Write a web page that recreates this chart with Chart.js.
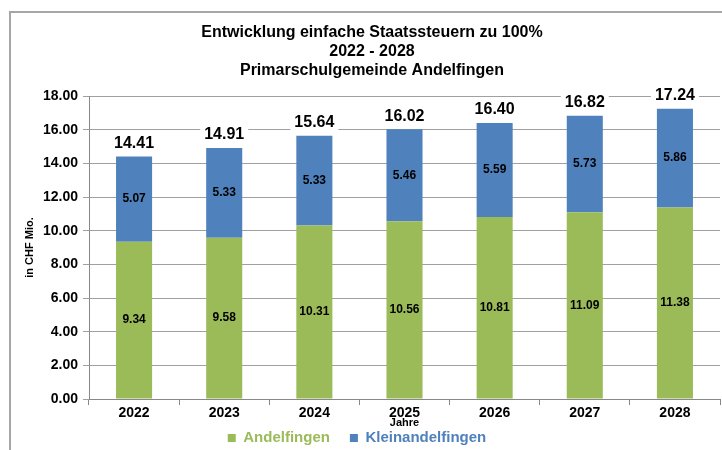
<!DOCTYPE html>
<html>
<head>
<meta charset="utf-8">
<script src="https://cdn.jsdelivr.net/npm/chart.js@4"></script>
<style>
  html, body { margin: 0; padding: 0; background: #fff; }
  #wrap { width: 722px; height: 450px; }
</style>
</head>
<body>
<div id="wrap"><canvas id="myChart" width="722" height="450"></canvas></div>
<script>
const years = ['2022', '2023', '2024', '2025', '2026', '2027', '2028'];
const andelfingen = [9.34, 9.58, 10.31, 10.56, 10.81, 11.09, 11.38];
const kleinandelfingen = [5.07, 5.33, 5.33, 5.46, 5.59, 5.73, 5.86];
const titleLines = ['Entwicklung einfache Staatssteuern zu 100%', '2022 - 2028', 'Primarschulgemeinde Andelfingen'];
const yTicks = [0, 2, 4, 6, 8, 10, 12, 14, 16, 18];

const green = '#9BBB59';
const blue = '#4F81BD';
const font = '"Liberation Sans", Arial, sans-serif';

// frame + white background
const framePlugin = {
  id: 'frame',
  beforeDraw(chart) {
    const c = chart.ctx;
    c.save();
    c.fillStyle = '#fff';
    c.fillRect(0, 0, chart.width, chart.height);
    c.strokeStyle = '#a6a6a6';
    c.lineWidth = 2;
    c.beginPath();
    c.moveTo(10, 460);
    c.lineTo(10, 12);
    c.lineTo(730, 12);
    c.stroke();
    c.restore();
  }
};

// legend box sits a bit higher and further left than the layout puts it
const legendShift = {
  id: 'legendShift',
  afterLayout(chart) {
    const lg = chart.legend;
    const h = lg.bottom - lg.top;
    lg.top = 410.5;
    lg.bottom = lg.top + h;
    lg.left -= 13;
    lg.right -= 13;
  }
};

const titlePlugin = {
  id: 'threeLineTitle',
  afterDraw(chart) {
    const c = chart.ctx;
    c.save();
    c.font = 'bold 16px ' + font;
    c.fillStyle = '#000';
    c.textAlign = 'center';
    c.textBaseline = 'middle';
    titleLines.forEach((t, i) => c.fillText(t, 372, 33 + i * 19));
    c.restore();
  }
};

const labelPlugin = {
  id: 'barLabels',
  afterDatasetsDraw(chart) {
    const c = chart.ctx;
    c.save();
    c.textAlign = 'center';
    c.textBaseline = 'middle';
    chart.data.datasets.forEach((ds, di) => {
      chart.getDatasetMeta(di).data.forEach((el, i) => {
        c.font = 'bold 12px ' + font;
        c.fillStyle = '#000';
        c.fillText(ds.data[i].toFixed(2), el.x, (el.y + el.base) / 2);
      });
    });
    const top = chart.getDatasetMeta(chart.data.datasets.length - 1).data;
    top.forEach((el, i) => {
      const total = andelfingen[i] + kleinandelfingen[i];
      const txt = total.toFixed(2);
      c.font = 'bold 16px ' + font;
      const w = c.measureText(txt).width;
      const y = el.y - 13;
      c.fillStyle = '#fff';
      c.fillRect(el.x - w / 2 - 4, y - 10, w + 8, 21);
      c.fillStyle = '#000';
      c.fillText(txt, el.x, y);
    });
    c.restore();
  }
};

new Chart(document.getElementById('myChart'), {
  type: 'bar',
  data: {
    labels: years,
    datasets: [
      {
        label: 'Andelfingen',
        data: andelfingen,
        backgroundColor: green,
        barPercentage: 0.4,
        categoryPercentage: 1
      },
      {
        label: 'Kleinandelfingen',
        data: kleinandelfingen,
        backgroundColor: blue,
        barPercentage: 0.4,
        categoryPercentage: 1
      }
    ]
  },
  options: {
    responsive: false,
    animation: false,
    layout: { padding: { top: 96, left: 20, right: 2, bottom: -25 } },
    scales: {
      x: {
        stacked: true,
        offset: true,
        grid: { offset: true, drawOnChartArea: false, tickLength: 6, color: '#888' },
        border: { color: '#888' },
        ticks: { color: '#000', font: { family: font, weight: 'bold', size: 14 }, padding: 0 },
        title: {
          display: true,
          text: 'Jahre',
          color: '#000',
          font: { family: font, weight: 'bold', size: 11 },
          padding: { top: 0, bottom: 0 }
        },
        afterFit(scale) { scale.height = 31; }
      },
      y: {
        stacked: true,
        min: 0,
        max: 18,
        afterBuildTicks(scale) { scale.ticks = yTicks.map(v => ({ value: v })); },
        grid: { color: '#a0a0a0', tickLength: 6 },
        border: { color: '#888' },
        ticks: {
          color: '#000',
          font: { family: font, weight: 'bold', size: 14 },
          padding: 5,
          callback: v => v.toFixed(2)
        },
        title: {
          display: true,
          text: 'in CHF Mio.',
          color: '#000',
          font: { family: font, weight: 'bold', size: 11 },
          padding: { top: 3, bottom: 4 }
        },
        afterFit(scale) { scale.width = 69; }
      }
    },
    plugins: {
      title: { display: false },
      tooltip: { enabled: false },
      legend: {
        position: 'bottom',
        labels: {
          boxWidth: 8,
          boxHeight: 8,
          padding: 20,
          font: { family: font, weight: 'bold', size: 15 },
          generateLabels(chart) {
            return Chart.defaults.plugins.legend.labels.generateLabels(chart).map(l => {
              l.fontColor = chart.data.datasets[l.datasetIndex].backgroundColor;
              l.strokeStyle = 'transparent';
              l.lineWidth = 0;
              return l;
            });
          }
        }
      }
    }
  },
  plugins: [framePlugin, legendShift, titlePlugin, labelPlugin]
});
</script>
</body>
</html>
